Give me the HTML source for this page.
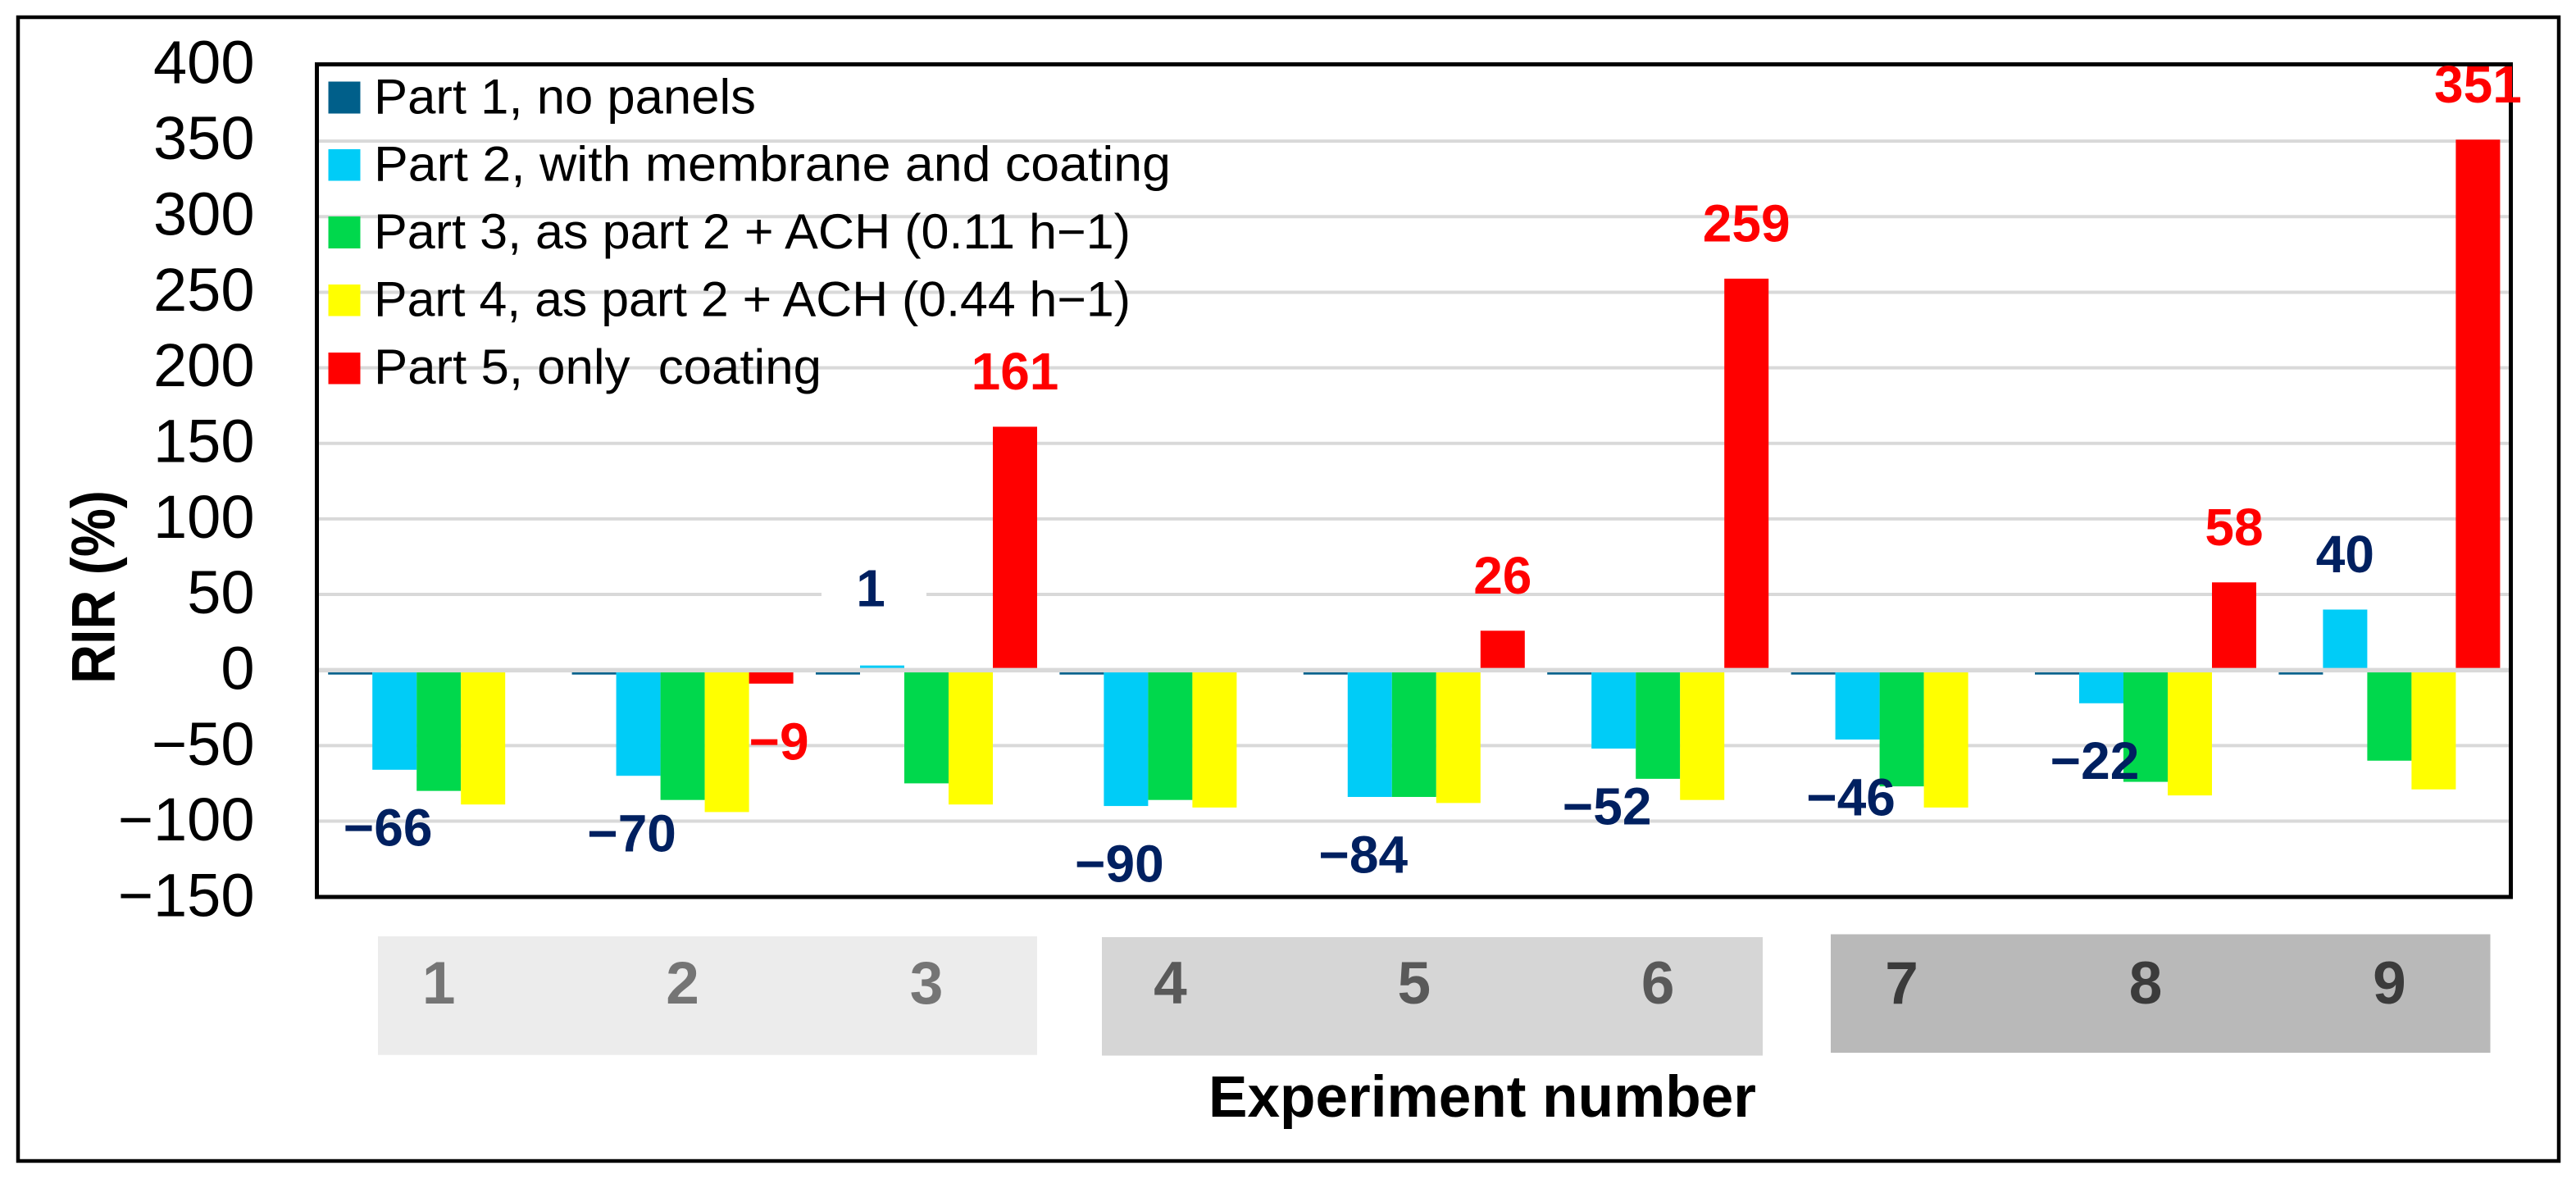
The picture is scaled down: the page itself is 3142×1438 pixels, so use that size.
<!DOCTYPE html>
<html lang="en">
<head>
<meta charset="utf-8">
<title>RIR by experiment number</title>
<style>
  html, body { margin: 0; padding: 0; background: #fff; }
  svg { display: block; }
  text { font-family: "Liberation Sans", sans-serif; white-space: pre; }
</style>
</head>
<body>
<svg id="chart" xmlns="http://www.w3.org/2000/svg" width="3142" height="1438" viewBox="0 0 3142 1438">
  <rect x="0" y="0" width="3142" height="1438" fill="#ffffff"/>
  <rect x="22" y="21" width="3099" height="1395" fill="none" stroke="#000" stroke-width="4.5"/>
  <g id="grid"></g>
  <g id="legend">
    <g>
      <rect x="400.5" y="99.5" width="39" height="39" fill="#005f8a"/>
      <text x="456" y="138.5" font-size="60" textLength="466" lengthAdjust="spacingAndGlyphs" fill="#000">Part 1, no panels</text>
    </g>
    <g>
      <rect x="400.5" y="182" width="39" height="38.5" fill="#00ccf7"/>
      <text x="456" y="220.5" font-size="60" textLength="972" lengthAdjust="spacingAndGlyphs" fill="#000">Part 2, with membrane and coating</text>
    </g>
    <g>
      <rect x="400.5" y="264" width="39" height="39" fill="#00d84c"/>
      <text x="456" y="303" font-size="60" textLength="923" lengthAdjust="spacingAndGlyphs" fill="#000">Part 3, as part 2 + ACH (0.11 h−1)</text>
    </g>
    <g>
      <rect x="400.5" y="347" width="39" height="38.5" fill="#ffff00"/>
      <text x="456" y="385.5" font-size="60" textLength="923" lengthAdjust="spacingAndGlyphs" fill="#000">Part 4, as part 2 + ACH (0.44 h−1)</text>
    </g>
    <g>
      <rect x="400.5" y="430" width="39" height="38.5" fill="#ff0000"/>
      <text x="456" y="468" font-size="60" textLength="546" lengthAdjust="spacingAndGlyphs" fill="#000" xml:space="preserve">Part 5, only  coating</text>
    </g>
  </g>
  <rect x="1002" y="690" width="128" height="70" fill="#ffffff"/>
  <g id="bars"></g>
  <line x1="388" x2="3062" y1="817.4" y2="817.4" stroke="#d9d9d9" stroke-width="5.5"/>
  <rect x="386.5" y="78.5" width="2676" height="1015.5" fill="none" stroke="#000" stroke-width="5"/>
  <g id="ticks"></g>
  <g id="groups">
    <rect x="461" y="1142" width="804" height="144.7" fill="#ececec"/>
    <rect x="1344" y="1143" width="806" height="144.5" fill="#d6d6d6"/>
    <rect x="2233" y="1139.5" width="804.5" height="144.5" fill="#b9b9b9"/>
  </g>
  <g id="categories"></g>
  <text x="1474" y="1362" font-size="71" font-weight="700" textLength="668" lengthAdjust="spacingAndGlyphs" fill="#000">Experiment number</text>
  <text transform="translate(139.3 834) rotate(-90)" x="0" y="0" font-size="75" font-weight="700" textLength="236" lengthAdjust="spacingAndGlyphs" fill="#000">RIR (%)</text>
  <g id="labels"></g>
</svg>
<script>
const experiments = ['1', '2', '3', '4', '5', '6', '7', '8', '9'];
const part1Values = [-3, -3, -3, -3, -3, -3, -3, -3, -3];
const part2Values = [-66, -70, 3, -90, -84, -52, -46, -22, 40];
const part3Values = [-80, -86, -75, -86, -84, -72, -77, -74, -60];
const part4Values = [-89, -94, -89, -91, -88, -86, -91, -83, -79];
const part5Values = [null, -9, 161, null, 26, 259, null, 58, 351];
const part2Labels = ['−66', '−70', '1', '−90', '−84', '−52', '−46', '−22', '40'];
const part5Labels = [null, '−9', '161', null, '26', '259', null, '58', '351'];
const yTicks = [400, 350, 300, 250, 200, 150, 100, 50, 0, -50, -100, -150];
const yTickLabels = ['400', '350', '300', '250', '200', '150', '100', '50', '0', '−50', '−100', '−150'];
const gridValues = [350, 300, 250, 200, 150, 100, 50, -50, -100];

const SVGNS = 'http://www.w3.org/2000/svg';
const plotLeft = 386.5;
const bandWidth = 297.4;
const barWidth = 54;
const barInset = (bandWidth - 5 * barWidth) / 2;
const zeroY = 817.2;
const unitsToPx = 1.843;

function yScale(v) { return zeroY - v * unitsToPx; }
function bandStart(i) { return plotLeft + i * bandWidth; }
function barX(i, s) { return bandStart(i) + barInset + s * barWidth; }
function tickBaseline(v) { return 101.7 + (400 - v) * 1.847; }

function make(tag, attrs, parent, content) {
  const el = document.createElementNS(SVGNS, tag);
  Object.keys(attrs).forEach(function (k) { el.setAttribute(k, attrs[k]); });
  if (content !== undefined) el.textContent = content;
  parent.appendChild(el);
  return el;
}

const gridGroup = document.getElementById('grid');
gridValues.forEach(function (v) {
  const el = make('line', { x1: 388, x2: 3061, y1: yScale(v), y2: yScale(v), stroke: '#d9d9d9', 'stroke-width': 4 }, gridGroup);
  
  
});

const barGroup = document.getElementById('bars');
function drawSeries(values, seriesIndex, color, seriesName) {
  values.forEach(function (v, i) {
    if (v === null) return;
    const top = Math.min(yScale(v), yScale(0));
    const h = Math.abs(yScale(v) - yScale(0));
    const el = make('rect', { x: barX(i, seriesIndex), y: top, width: barWidth, height: h, fill: color }, barGroup);
    
    
  });
}
drawSeries(part1Values, 0, '#005f8a', 'part-1');
drawSeries(part2Values, 1, '#00ccf7', 'part-2');
drawSeries(part3Values, 2, '#00d84c', 'part-3');
drawSeries(part4Values, 3, '#ffff00', 'part-4');
drawSeries(part5Values, 4, '#ff0000', 'part-5');

const tickGroup = document.getElementById('ticks');
yTicks.forEach(function (v, i) {
  const el = make('text', { x: 310.5, y: tickBaseline(v), 'font-size': 74, 'text-anchor': 'end', fill: '#000' }, tickGroup, yTickLabels[i]);
  
  
});

const categoryGroup = document.getElementById('categories');
const categoryColors = ['#757575', '#595959', '#3b3b3b'];
experiments.forEach(function (name, i) {
  const el = make('text', {
    x: bandStart(i) + bandWidth / 2, y: 1224, 'font-size': 73, 'font-weight': 700,
    'text-anchor': 'middle', fill: categoryColors[Math.floor(i / 3)]
  }, categoryGroup, name);
  
  
});

const labelGroup = document.getElementById('labels');
function drawLabels(values, labels, seriesIndex, color, seriesName) {
  labels.forEach(function (text, i) {
    if (text === null) return;
    const v = values[i];
    const cx = barX(i, seriesIndex) + barWidth / 2;
    let x = cx;
    let y = v < 0 ? yScale(v) + 92.5 : yScale(v) - 45.5;
    if (v < 0 && seriesIndex === 1) x = cx - 8;
    if (v < 0 && seriesIndex === 4) x = cx + 9.5;
    if (v > 0 && v < 10) { x = cx - 14; y = yScale(v) - 72; }
    const el = make('text', { x: x, y: y, 'font-size': 64, 'font-weight': 700, 'text-anchor': 'middle', fill: color }, labelGroup, text);
    
    
  });
}
drawLabels(part2Values, part2Labels, 1, '#002060', 'part-2');
drawLabels(part5Values, part5Labels, 4, '#ff0000', 'part-5');
</script>
</body>
</html>
